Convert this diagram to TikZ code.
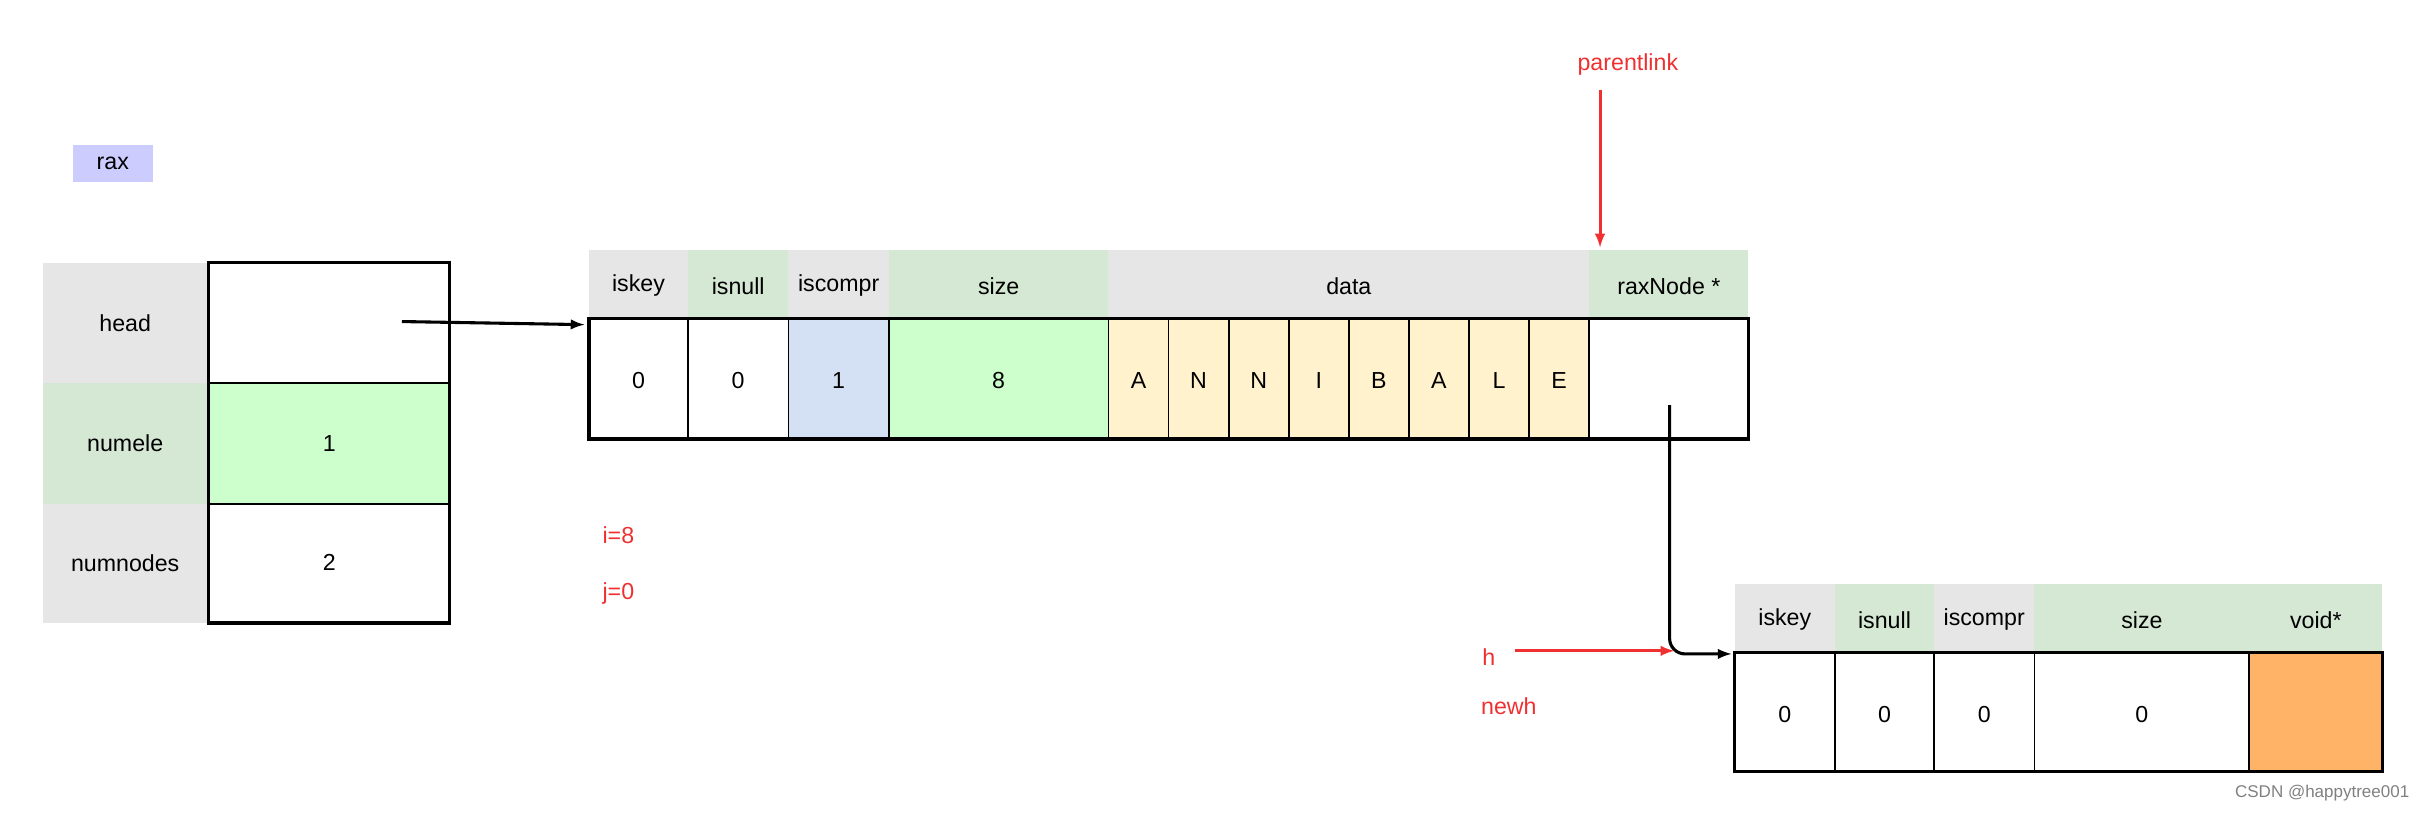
\documentclass[tikz,border=0pt]{standalone}
\usepackage{fontspec}
\setmainfont{Liberation Sans}
\begin{document}
\begin{tikzpicture}[x=1pt,y=-1pt,
  every node/.style={font=\fontsize{15}{18}\selectfont},
  lab/.style={inner sep=0},
  red/.style={text=rd},
  cell/.style={draw=black,line width=1.2pt},
  bord/.style={draw=black,line width=2pt}]
\definecolor{gr}{HTML}{E6E6E6}\definecolor{gn}{HTML}{D5E8D4}
\definecolor{lg}{HTML}{CCFFCC}\definecolor{bl}{HTML}{D4E1F5}
\definecolor{yl}{HTML}{FFF2CC}\definecolor{og}{HTML}{FFB366}
\definecolor{rd}{HTML}{F03030}\definecolor{pu}{HTML}{CCCCFF}
\useasboundingbox (0,0) rectangle (1568,527);
% rax
\fill[pu] (47,94) rectangle (99,118); \node[lab] (rax) at (73,106) {rax};
% left table
\fill[gr] (28,170) rectangle (135,248); \fill[gn] (28,248) rectangle (135,326); \fill[gr] (28,326) rectangle (135,403);
\node (lh) at (81,209) {head}; \node (ln) at (81,287) {numele}; \node (lnn) at (81,364) {numnodes};
\fill[lg] (135,248) rectangle (291,326);
\draw[cell] (135,248) -- (291,248) (135,326) -- (291,326);
\draw[bord] (135,170) rectangle (291,403);
\node (vh) at (213,209) {}; \node (vn) at (213,287) {1}; \node (vnn) at (213,364) {2};
% main header
\foreach \a/\b/\c/\t in {381/445/gr/iskey,445/510/gn/isnull,510/575/gr/iscompr,575/717/gn/size,717/1028/gr/data,1028/1131/gn/raxNode *}
  {\fill[\c] (\a,162) rectangle (\b,206); \node at ({(\a+\b)/2},185) {\t};}
\fill[bl] (510,206) rectangle (575,284); \fill[lg] (575,206) rectangle (717,284);
\fill[yl] (717,206) rectangle (1028,284);
\foreach \a/\b/\t in {381/445/0,445/510/0,510/575/1,575/717/8}
  {\draw[cell] (\a,206) rectangle (\b,284); \node at ({(\a+\b)/2},246) {\t};}
\foreach \t [count=\i from 0] in {A,N,N,I,B,A,L,E}
  {\draw[cell] ({717+\i*38.875},206) rectangle ({717+(\i+1)*38.875},284);
   \node at ({717+(\i+0.5)*38.875},246) {\t};}
\draw[bord] (381,206) rectangle (1131,284);
\draw[cell] (1028,206) -- (1028,284);
\coordinate (rp) at (1080,262);
% arrows
\coordinate (hs) at (260,208); \coordinate (ht) at (378,210);
\draw[line width=2pt,-latex] (hs) -- (ht);
\draw[line width=2pt,-latex,rounded corners=10pt] (rp) -- (1080,423) -- (1120,423);
% red texts
\node[red] (i) at (400,346) {i=8}; \node[red] (j) at (400,384) {j=0};
\node[red] (pl) at (1053,42) {parentlink};
\draw[rd,line width=2pt,-latex] (1035,58) -- (1035,160);
\node[red] (h) at (963,425) {h}; \node[red] (nh) at (976,457) {newh};
\draw[rd,line width=2pt,-latex] (980,421) -- (1083,421);
% second header
\foreach \a/\b/\c/\t in {1122/1187/gr/iskey,1187/1251/gn/isnull,1251/1316/gr/iscompr,1316/1455/gn/size,1455/1541/gn/void*}
  {\fill[\c] (\a,378) rectangle (\b,422); \node at ({(\a+\b)/2},401) {\t};}
\fill[og] (1455,422) rectangle (1541,499);
\foreach \a/\b/\t in {1122/1187/0,1187/1251/0,1251/1316/0,1316/1455/0}
  {\draw[cell] (\a,422) rectangle (\b,499); \node at ({(\a+\b)/2},462) {\t};}
\draw[bord] (1122,422) rectangle (1541,499);
\node[text=gray,font=\fontsize{11}{13}\selectfont,anchor=east] (wm) at (1562,513) {CSDN @happytree001};
\end{tikzpicture}
\end{document}
